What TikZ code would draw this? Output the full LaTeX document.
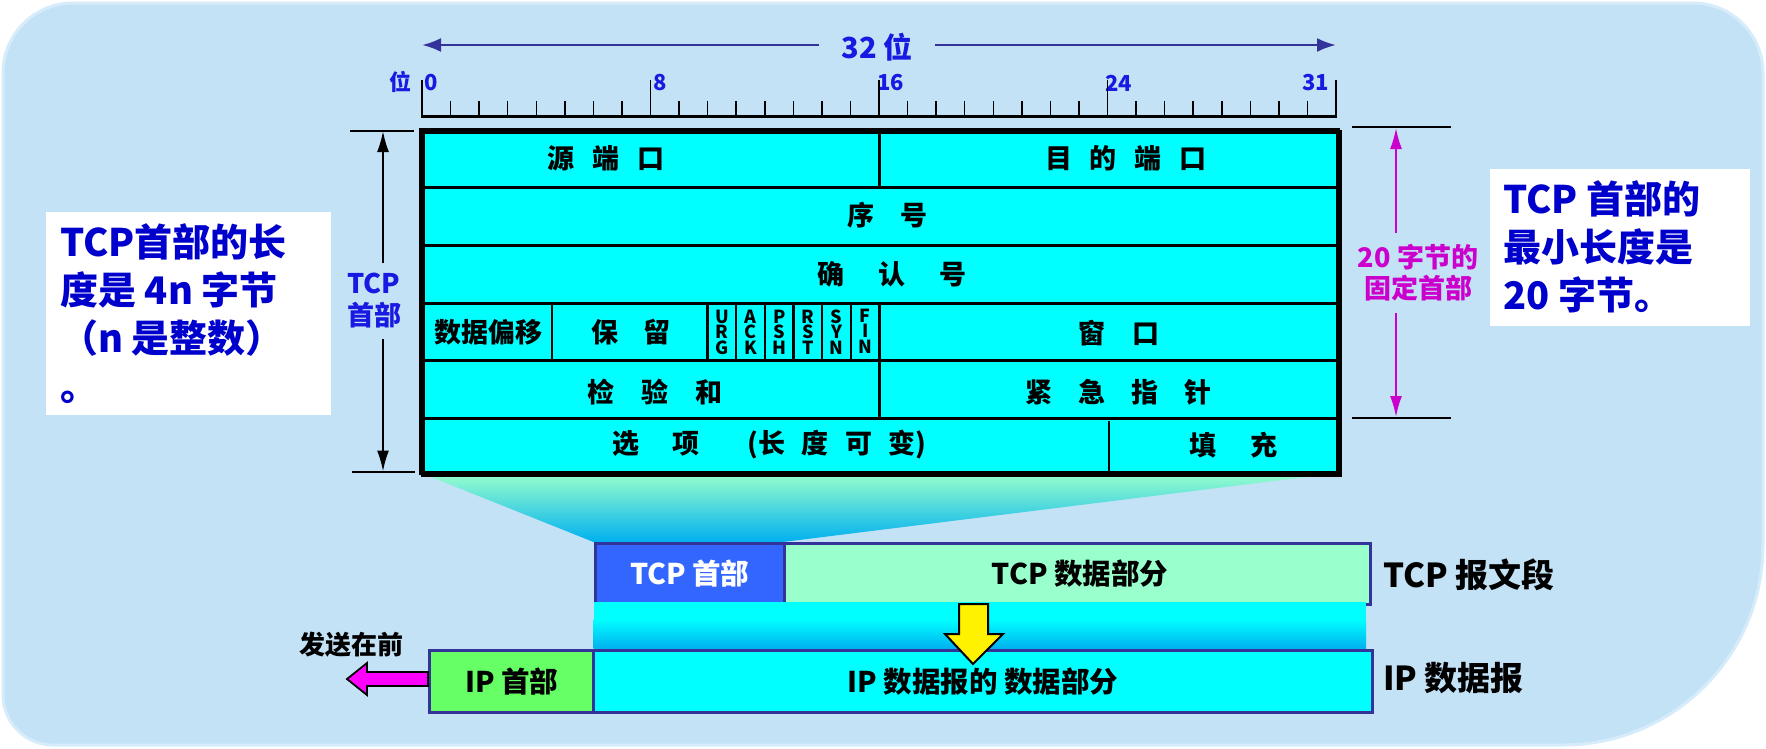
\documentclass[tikz,border=0pt]{standalone}
\usepackage{fontspec}
\setmainfont{Noto Sans CJK SC}
\usetikzlibrary{arrows.meta}
\definecolor{bg}{RGB}{196,226,246}
\definecolor{bgedge}{RGB}{215,236,251}
\definecolor{hdrcyan}{RGB}{0,255,255}
\definecolor{rulerblue}{RGB}{25,25,225}
\definecolor{arrowblue}{RGB}{51,51,153}
\definecolor{boxblue}{RGB}{0,0,204}
\definecolor{magdim}{RGB}{204,0,204}
\definecolor{tcpblue}{RGB}{51,102,255}
\definecolor{mint}{RGB}{153,255,204}
\definecolor{sky}{RGB}{0,176,240}
\definecolor{ipgreen}{RGB}{102,255,102}
\definecolor{boxedge}{RGB}{51,51,153}
\definecolor{pinkarrow}{RGB}{255,0,255}
\begin{document}
\begin{tikzpicture}[x=1pt,y=-1pt,
  cell/.style={font=\fontsize{27}{32}\selectfont\bfseries,inner sep=0pt,anchor=west},
  flagtxt/.style={font=\fontsize{18}{15.5}\selectfont\bfseries,inner sep=0pt,align=center},
  rlbl/.style={font=\fontsize{22}{26}\selectfont\bfseries,text=rulerblue,inner sep=0pt},
  bigblue/.style={font=\fontsize{38}{48}\selectfont\bfseries,text=boxblue,inner sep=0pt,anchor=base west},
  seg/.style={draw=boxedge,line width=3pt,inner sep=0pt,anchor=north west,font=\fontsize{28.5}{32}\selectfont\bfseries},
  rtick/.style={line width=1.5pt},
  rowline/.style={line width=2.5pt},
  blackdim/.style={line width=2pt,-{Latex[length=21pt,width=12pt]}},
  magdimar/.style={line width=2pt,draw=magdim,-{Latex[length=21pt,width=12pt]}},
  sidelbl/.style={font=\fontsize{33}{36}\selectfont\bfseries,inner sep=0pt,anchor=west},
]
\useasboundingbox (0,0) rectangle (1766,748);
\fill[white] (0,0) rectangle (1766,748);
% background panel
\path[fill=bg,draw=bgedge,line width=3pt] (3,73) .. controls (3,34.3) and (34.3,3) .. (73,3)
  -- (1693,3) .. controls (1731.7,3) and (1763,34.3) .. (1763,73)
  -- (1763,545) .. controls (1763,655.5) and (1673.5,745) .. (1563,745)
  -- (53,745) .. controls (25.4,745) and (3,722.6) .. (3,695) -- cycle;

% funnel
\shade[top color=mint,bottom color=sky] (421,473) -- (1338,473) -- (782.8,542) -- (593.6,542) -- cycle;

% 32 bit arrow
\node[font=\fontsize{29}{32}\selectfont\bfseries,text=rulerblue,inner xsep=22pt,inner ysep=0pt] (w32) at (877,47) {32 位};
\coordinate (wl) at (422,45);
\coordinate (wr) at (1336,45);
\draw[arrowblue,line width=2.5pt,-{Latex[length=19pt,width=14pt]}] (w32.west |- wl) -- (wl);
\draw[arrowblue,line width=2.5pt,-{Latex[length=19pt,width=14pt]}] (w32.east |- wr) -- (wr);

% ruler labels
\node[rlbl] (bw) at (400,82) {位};
\node[rlbl,anchor=west] (b0) at (424,83) {0};
\node[rlbl,anchor=west] (b8) at (653,83) {8};
\node[rlbl,anchor=west] (b16) at (877,83) {16};
\node[rlbl,anchor=west] (b24) at (1105,83) {24};
\node[rlbl,anchor=west] (b31) at (1302,83) {31};
% ruler
\foreach \i in {0,...,32}{%
  \pgfmathsetmacro{\tx}{422+\i*28.5625}%
  \pgfmathtruncatemacro{\tm}{mod(\i,8)}%
  \ifnum\tm=0\relax \draw[rtick] (\tx,80) -- (\tx,117);\else \draw[rtick] (\tx,101) -- (\tx,117);\fi
}
\draw[line width=2.5pt] (421,116.5) -- (1337,116.5);

% header table
\node[draw,line width=4pt,fill=hdrcyan,minimum width=917pt,minimum height=343.5pt,anchor=north west,inner sep=0pt] (tbl) at (421,129.5) {};
\foreach \yy in {187.3,245.3,303.5,360.7,418.3}{\draw[rowline] (421,\yy) -- (1338,\yy);}
\draw[rowline] (879.5,129.5) -- (879.5,187.3);
\foreach \xx in {552,707.6,736.2,764.9,793.5,822.2,850.8,879.5}{\draw[rowline] (\xx,303.5) -- (\xx,360.7);}
\draw[rowline] (879.5,360.7) -- (879.5,418.3);
\draw[line width=1.6pt] (1108.7,421) -- (1108.7,472);
\draw[line width=4pt] (421,129.5) rectangle (1338,473);

% table texts
\node[cell] (srcport) at (547,158.3) {源\hspace{18pt}端\hspace{18pt}口};
\node[cell] (dstport) at (1045,158.3) {目\hspace{17.7pt}的\hspace{17.7pt}端\hspace{17.7pt}口};
\node[cell] (seq) at (847,215.5) {序\hspace{26pt}号};
\node[cell] (ack) at (817,274.3) {确\hspace{34pt}认\hspace{34pt}号};
\node[cell] (doff) at (434,332.5) {数据偏移};
\node[cell] (resv) at (591,332.5) {保\hspace{25pt}留};
\node[cell] (win) at (1078,333) {窗\hspace{27pt}口};
\node[cell] (csum) at (587,392) {检\hspace{27pt}验\hspace{27pt}和};
\node[cell] (urgp) at (1025,392) {紧\hspace{26pt}急\hspace{26pt}指\hspace{26pt}针};
\node[cell] (opts) at (612,445) {选\hspace{33pt}项\hspace{48pt}(长\hspace{16.5pt}度\hspace{16.5pt}可\hspace{16.5pt}变)};
\node[cell] (pad) at (1189,445) {填\hspace{34pt}充};
% flags
\node[flagtxt] (furg) at (721.9,332) {U\\R\\G};
\node[flagtxt] (fack) at (750.6,332) {A\\C\\K};
\node[flagtxt] (fpsh) at (779.2,332) {P\\S\\H};
\node[flagtxt] (frst) at (807.9,332) {R\\S\\T};
\node[flagtxt] (fsyn) at (836.5,332) {S\\Y\\N};
\node[flagtxt] (ffin) at (865.2,331) {F\\I\\N};

% left dimension
\draw[line width=2pt] (350,130.5) -- (414,130.5);
\draw[line width=2pt] (352,472) -- (415,472);
\coordinate (ltop) at (383,131);
\coordinate (lbot) at (383,471.5);
\node[font=\fontsize{27}{32}\selectfont\bfseries,text=rulerblue,align=center,inner xsep=0pt,inner ysep=10pt] (ldim) at (374,301) {TCP\\首部};
\draw[blackdim] (ltop |- ldim.north) -- (ltop);
\draw[blackdim] (lbot |- ldim.south) -- (lbot);

% right dimension
\draw[line width=2pt] (1352,127.3) -- (1451,127.3);
\draw[line width=2pt] (1352,417.7) -- (1451,417.7);
\coordinate (rtop) at (1396,128);
\coordinate (rbot) at (1396,417);
\node[font=\fontsize{27}{31}\selectfont\bfseries,text=magdim,align=center,inner xsep=0pt,inner ysep=11pt] (rdim) at (1418,273) {20 字节的\\固定首部};
\draw[magdimar] (rtop |- rdim.north) -- (rtop);
\draw[magdimar] (rbot |- rdim.south) -- (rbot);

% left note
\node[fill=white,minimum width=285pt,minimum height=203pt,anchor=north west,inner sep=0pt] (lnote) at (46,212) {};
\node[bigblue] (ln1) at (60,256) {TCP首部的长};
\node[bigblue] (ln2) at (60,304) {度是 4n 字节};
\node[bigblue] (ln3) at (60,352) {（n 是整数）};
\node[bigblue] (ln4) at (60,400) {。};

% right note
\node[fill=white,minimum width=260pt,minimum height=157pt,anchor=north west,inner sep=0pt] (rnote) at (1490,169) {};
\node[bigblue] (rn1) at (1503,213) {TCP 首部的};
\node[bigblue] (rn2) at (1503,261) {最小长度是};
\node[bigblue] (rn3) at (1503,309) {20 字节。};

% TCP segment
\node[seg,fill=tcpblue,text=white,minimum width=189.2pt,minimum height=61pt] (tcph) at (593.6,541.7) {TCP 首部};
\node[seg,fill=mint,minimum width=585.7pt,minimum height=61pt] (tcpd) at (782.8,541.7) {\hspace{6pt}TCP 数据部分};
% band
\fill[hdrcyan] (593.6,601.5) rectangle (1366,620);
\shade[top color=hdrcyan,bottom color=sky] (593.6,619.5) rectangle (1366,648.5);
% IP datagram
\node[seg,fill=ipgreen,minimum width=164.4pt,minimum height=62pt] (iph) at (428,648.7) {IP 首部};
\node[seg,fill=hdrcyan,minimum width=778.1pt,minimum height=62pt] (ipd) at (592.4,648.7) {IP 数据报的 数据部分};

% side labels
\node[sidelbl] (tcpseg) at (1383,575) {TCP 报文段};
\node[sidelbl] (ipdg) at (1383,678) {IP 数据报};
\node[font=\fontsize{26}{30}\selectfont\bfseries,inner sep=0pt] (sendfirst) at (351,645) {发送在前};

% yellow arrow
\draw[fill=yellow,line width=2pt,line join=miter] (959,604) -- (988,604) -- (988,634) -- (1003,634) -- (973,664) -- (945,634) -- (959,634) -- cycle;
% magenta arrow
\draw[fill=pinkarrow,line width=1.8pt,line join=miter] (iph.west |- 0,672) -- (367,672) -- (367,663) -- (347,679) -- (367,695) -- (367,686) -- (iph.west |- 0,686) -- cycle;
\end{tikzpicture}
\end{document}
